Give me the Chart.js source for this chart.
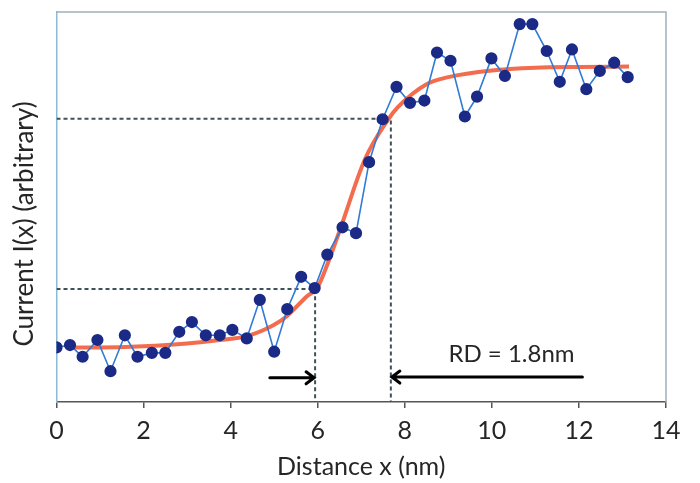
<!DOCTYPE html>
<html>
<head>
<meta charset="utf-8">
<script src="https://cdn.jsdelivr.net/npm/chart.js@4.4.1/dist/chart.umd.min.js"></script>
<style>
  body { margin: 0; background: #fff; }
  canvas { display: block; }
</style>
</head>
<body>
<canvas id="rdChart" width="700" height="483"></canvas>
<script>
// measured current along distance (arbitrary units, 0..100)
const distance = [0, 0.31, 0.6, 0.94, 1.24, 1.57, 1.86, 2.19, 2.5, 2.82, 3.11, 3.43, 3.75, 4.04, 4.37,
  4.67, 5.0, 5.3, 5.62, 5.93, 6.22, 6.57, 6.88, 7.18, 7.49, 7.81, 8.12, 8.45, 8.74, 9.05, 9.38,
  9.66, 9.99, 10.3, 10.64, 10.93, 11.26, 11.56, 11.84, 12.17, 12.48, 12.81, 13.12];
const current = [14.0, 14.6, 11.6, 15.9, 7.9, 17.1, 11.6, 12.6, 12.6, 18.0, 20.5, 17.1, 17.1, 18.5, 16.3,
  26.2, 12.9, 23.8, 32.1, 29.2, 37.8, 44.8, 43.3, 61.5, 72.5, 80.8, 76.7, 77.3, 89.6, 87.5, 73.2,
  78.3, 88.1, 83.6, 96.9, 96.9, 90.0, 82.1, 90.4, 80.2, 84.9, 87.0, 83.3];

// fitted step curve
const fitX = [0.35, 1, 2, 3, 3.75, 4.37, 4.98, 5.29, 5.74, 6.0, 6.17, 6.51, 7.08, 7.61, 7.84, 8.5, 9, 10, 11, 12, 13.15];
const fitY = [14.0, 14.0, 14.3, 15.0, 15.9, 16.9, 19.7, 22.0, 27.0, 29.5, 33.8, 44.1, 62.1, 72.3, 75.6, 81.5, 83.3, 85.0, 85.7, 85.9, 86.0];

// guide lines: lower / upper levels and where they meet the fit
const guideX = [5.94, 7.68];
const guideY = [29.0, 72.6];
const arrowY = [6.2, 6.4];
const arrowStart = [4.9, 12.08];
const rdLabel = 'RD = 1.8nm';
const xTicks = [0, 2, 4, 6, 8, 10, 12, 14];

const FONT = 'Lato, "Open Sans", sans-serif';
const TEXT = '#262626';

const pts = (xs, ys) => xs.map((x, i) => ({ x: x, y: ys[i] }));

const guideData = (i) => [
  { x: 0, y: guideY[i] },
  { x: guideX[i], y: guideY[i] },
  { x: guideX[i], y: 0 }
];

const extras = {
  id: 'extras',
  beforeDatasetsDraw(chart) {
    const { ctx, chartArea: a } = chart;
    ctx.save();
    ctx.strokeStyle = '#9fb0ba';
    ctx.lineWidth = 1.5;
    ctx.beginPath();
    ctx.moveTo(a.left, a.top);
    ctx.lineTo(a.right, a.top);
    ctx.lineTo(a.right, a.bottom);
    ctx.stroke();
    ctx.restore();
  },
  afterDatasetsDraw(chart) {
    const { ctx, scales } = chart;
    const xs = scales.x, ys = scales.y;
    ctx.save();
    ctx.strokeStyle = '#000';
    ctx.lineWidth = 3;
    ctx.lineCap = 'round';
    for (let i = 0; i < 2; i++) {
      const x0 = xs.getPixelForValue(arrowStart[i]);
      const x1 = xs.getPixelForValue(guideX[i]);
      const y = ys.getPixelForValue(arrowY[i]);
      const dir = x1 > x0 ? 1 : -1;
      ctx.beginPath();
      ctx.moveTo(x0, y);
      ctx.lineTo(x1 - dir * 2, y);
      ctx.moveTo(x1 - dir * 9, y - 6);
      ctx.lineTo(x1 - dir * 1, y);
      ctx.lineTo(x1 - dir * 9, y + 6);
      ctx.stroke();
    }
    ctx.fillStyle = TEXT;
    ctx.font = '24px ' + FONT;
    ctx.textAlign = 'center';
    ctx.textBaseline = 'middle';
    ctx.fillText(rdLabel, xs.getPixelForValue(10.45), ys.getPixelForValue(12.3));

    ctx.font = '26px ' + FONT;
    ctx.translate(25, 224);
    ctx.rotate(-Math.PI / 2);
    ctx.fillText('Current I(x) (arbitrary)', 0, 0);
    ctx.restore();
  }
};

new Chart(document.getElementById('rdChart'), {
  type: 'line',
  data: {
    datasets: [
      {
        label: 'Measured',
        data: pts(distance, current),
        borderColor: '#2f7bd6',
        borderWidth: 1.6,
        pointRadius: 5.3,
        pointBackgroundColor: '#1b2a86',
        pointBorderColor: '#1b2a86',
        tension: 0,
        order: 1
      },
      {
        label: 'Fit',
        data: pts(fitX, fitY),
        borderColor: 'rgba(242, 96, 62, 0.92)',
        borderWidth: 4,
        pointRadius: 0,
        cubicInterpolationMode: 'monotone',
        order: 2
      },
      {
        label: 'lower',
        data: guideData(0),
        borderColor: '#3d5158',
        borderWidth: 2,
        borderDash: [4, 3],
        pointRadius: 0,
        order: 3
      },
      {
        label: 'upper',
        data: guideData(1),
        borderColor: '#3d5158',
        borderWidth: 2,
        borderDash: [4, 3],
        pointRadius: 0,
        order: 3
      }
    ]
  },
  options: {
    responsive: false,
    animation: false,
    layout: { padding: { top: 12, right: 34, left: 0, bottom: 0 } },
    plugins: { legend: { display: false }, tooltip: { enabled: false } },
    scales: {
      x: {
        type: 'linear',
        min: 0,
        max: 14,
        afterBuildTicks: (s) => { s.ticks = xTicks.map(v => ({ value: v })); },
        afterFit: (s) => { s.height = 81; },
        grid: { drawOnChartArea: false, drawTicks: true, tickLength: 6, color: '#555', lineWidth: 1.5 },
        border: { color: '#555', width: 1.5 },
        ticks: { color: TEXT, font: { family: FONT, size: 25 }, padding: 8, maxRotation: 0 },
        title: { display: true, text: 'Distance x (nm)', color: TEXT, font: { family: FONT, size: 25 }, padding: { top: 0, bottom: 1 } }
      },
      y: {
        min: 0,
        max: 100,
        afterFit: (s) => { s.width = 56.5; },
        grid: { display: false },
        border: { display: true, color: '#8cbcd4', width: 1.5 },
        ticks: { display: false }
      }
    }
  },
  plugins: [extras]
});
</script>
</body>
</html>
